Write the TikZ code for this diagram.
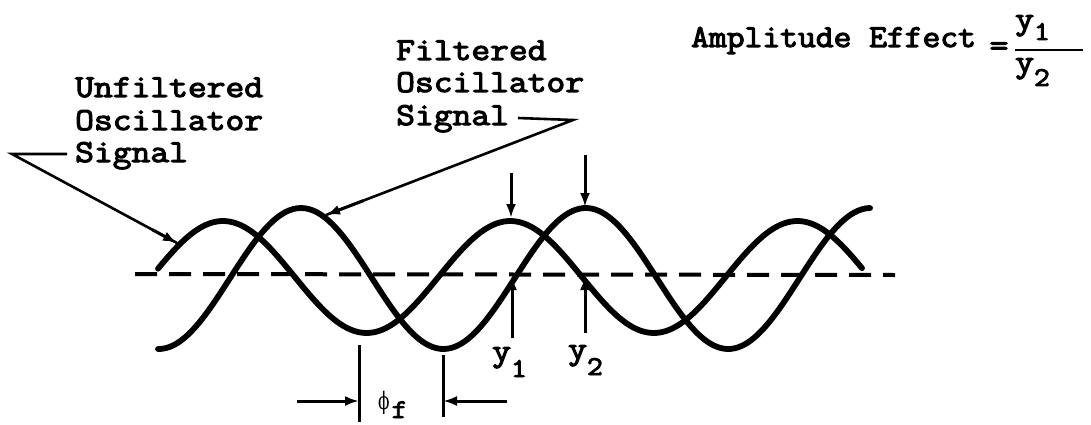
\documentclass[tikz,border=0pt]{standalone}
\usepackage{fontspec}
\newfontfamily\twfont{Latin Modern Mono}[FakeBold=3.5,FakeStretch=1.14]
\newfontfamily\twfontn{Latin Modern Mono}[FakeBold=3.5,FakeStretch=1.08]
\newfontfamily\grkfont{DejaVu Serif}
\usetikzlibrary{arrows.meta,calc}
\newcommand{\lowsub}[2][12pt]{\raisebox{-#1}{\fontsize{27}{27}\selectfont #2}}
\begin{document}
\begin{tikzpicture}[x=1pt,y=-1pt,
  txt/.style={font=\twfont\fontsize{32}{32}\selectfont, inner sep=0pt, anchor=base west},
  wave/.style={line width=5.8pt, line cap=round, line join=round},
  axisline/.style={line width=4pt, dash pattern=on 22pt off 12pt},
  leader/.style={line width=2.6pt, line join=miter},
  pointer/.style={line width=3pt, -{Latex[length=14pt,width=10pt]}},
  dimline/.style={line width=3pt},
]
\useasboundingbox (0,0) rectangle (1091,425);
\fill[white] (0,0) rectangle (1091,425);

% reference line
\coordinate (ax0) at (135,274);
\coordinate (ax1) at (895,275);
\draw[axisline] (ax0) -- (ax1);

% unfiltered oscillator signal
\draw[wave] plot[domain=158:862, samples=180, smooth] (\x, {277 - 56*cos(1.25348*(\x-223))});
% filtered oscillator signal
\draw[wave] plot[domain=158:870, samples=180, smooth] (\x, {278.5 - 70.5*cos(1.26404*(\x-301))});

% labels
\node[txt] (u1) at (75,97) {Unfiltered};
\node[txt] (u2) at (75,130) {Oscillator};
\node[txt] (u3) at (75,162) {Signal};

\node[txt] (f1) at (396,60) {Filtered};
\node[txt] (f2) at (396,92) {Oscillator};
\node[txt] (f3) at (396,125) {Signal};

\node[txt, font=\twfontn\fontsize{32}{32}\selectfont] (amp) at (691,47) {Amplitude Effect};
\node[font=\twfont\fontsize{32}{32}\selectfont, inner sep=0pt] (eq) at (999,49) {=};
\node[txt] (num) at (1015,29) {y\lowsub[11pt]{1}};
\node[txt] (den) at (1015,72) {y\lowsub[14pt]{2}};
\coordinate (bar0) at (1015,50);
\coordinate (bar1) at (1083,50);
\draw[line width=2pt] (bar0) -- (bar1);

% leader: unfiltered
\coordinate (ua) at (67,154);
\coordinate (uc) at (12,154);
\coordinate (ut) at (177,243);
\draw[leader] (ua) -- (uc) -- (ut);
\draw[pointer] ($(uc)!0.85!(ut)$) -- (ut);

% leader: filtered
\coordinate (fa) at (518,118);
\coordinate (fc) at (573,120);
\coordinate (ft) at (326,215);
\draw[leader] (fa) -- (fc) -- (ft);
\draw[pointer] ($(fc)!0.85!(ft)$) -- (ft);

% amplitude arrows
\coordinate (p1top) at (511,173);
\coordinate (p1) at (511,218);
\coordinate (p2top) at (585,155);
\coordinate (p2) at (585,207);
\draw[pointer] (p1top) -- (p1);
\draw[pointer] (p2top) -- (p2);

\coordinate (z1) at (512,276);
\coordinate (z1b) at (512,338);
\coordinate (z2) at (585,276);
\coordinate (z2b) at (585,333);
\draw[pointer] (z1b) -- (z1);
\draw[pointer] (z2b) -- (z2);

\node[txt] (y1) at (492,361) {y\lowsub[16pt]{1}};
\node[txt] (y2) at (568,359) {y\lowsub[16pt]{2}};

% phase shift
\coordinate (ph1t) at (359,345);
\coordinate (ph1b) at (359,422);
\coordinate (ph2t) at (443,355);
\coordinate (ph2b) at (443,417);
\draw[dimline] (ph1t) -- (ph1b);
\draw[dimline] (ph2t) -- (ph2b);
\coordinate (pa0) at (297,401);
\coordinate (pa1) at (359,401);
\coordinate (pb0) at (507,401);
\coordinate (pb1) at (443,401);
\draw[pointer] (pa0) -- (pa1);
\draw[pointer] (pb0) -- (pb1);
\node[inner sep=0pt, anchor=base west] (phi) at (378,409) {{\grkfont\fontsize{24}{24}\selectfont\scalebox{0.7}[1]{ϕ}}\hspace{2pt}\raisebox{-9pt}{\twfont\fontsize{27}{27}\selectfont f}};
\end{tikzpicture}
\end{document}
